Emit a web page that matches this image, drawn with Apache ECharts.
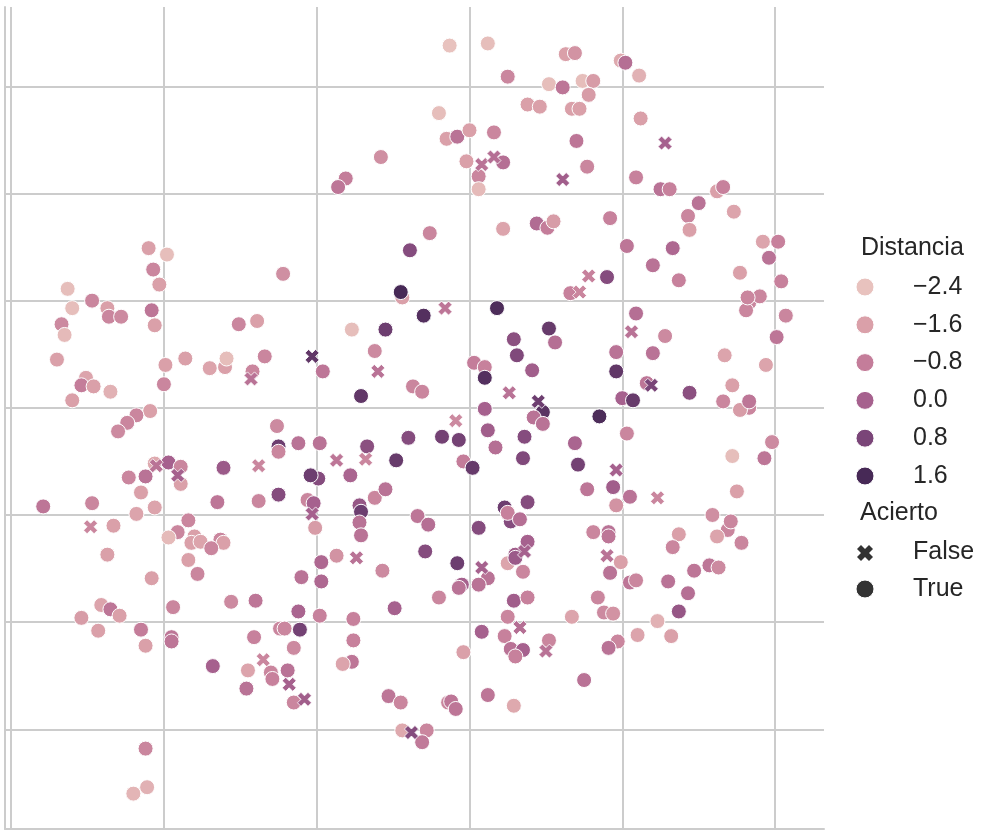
<!DOCTYPE html>
<html>
<head>
<meta charset="utf-8">
<script src="https://cdn.jsdelivr.net/npm/echarts@6.0.0/dist/echarts.min.js"></script>
<style>
  html, body { margin: 0; padding: 0; background: #fff; }
  #chart { width: 984px; height: 831px; }
</style>
</head>
<body>
<div id="chart"></div>
<script>
// [x, y, Distancia] for Acierto = True
var aciertoTrue = [
  [-2.10,1.49,-1.6],[-1.98,1.43,-2.3],[-2.07,1.29,-1.0],[-2.03,1.15,-1.6],[-1.22,1.25,-1.2],
  [-0.13,3.38,-2.4],[0.12,3.40,-2.3],[0.25,3.09,-1.0],[0.52,3.02,-2.3],[0.38,2.83,-1.6],
  [0.46,2.81,-1.6],[-0.20,2.75,-2.3],[-0.15,2.51,-1.6],[-0.08,2.53,-0.5],[0.00,2.59,-1.6],
  [0.16,2.57,-1.0],[-0.02,2.30,-1.6],[0.22,2.29,-0.4],[0.06,2.16,-1.0],[0.06,2.04,-2.2],
  [-0.26,1.63,-1.0],[-0.39,1.47,0.6],[-0.58,2.34,-1.2],[-0.81,2.14,-0.8],[-0.86,2.06,-0.6],
  [0.22,1.67,-1.7],[0.44,1.72,-0.3],[0.51,1.68,-0.8],[0.55,1.74,-1.5],[0.63,3.30,-1.6],
  [0.69,3.31,-1.3],[0.99,3.24,-1.8],[1.02,3.22,-0.4],[1.11,3.10,-2.0],[0.61,2.99,-0.6],
  [0.74,3.05,-2.3],[0.81,3.05,-1.5],[0.78,2.92,-1.5],[0.67,2.79,-1.6],[0.72,2.79,-1.6],
  [1.12,2.70,-1.6],[0.70,2.49,-0.6],[0.77,2.25,-1.0],[1.09,2.15,-0.9],[1.25,2.04,-0.5],
  [1.31,2.04,-0.9],[1.50,1.91,-0.5],[1.62,2.02,-1.6],[1.66,2.06,-0.9],[1.73,1.83,-1.7],
  [1.43,1.79,-1.0],[1.44,1.66,-1.6],[0.92,1.77,-0.9],[1.03,1.51,-0.6],[1.33,1.49,-0.2],
  [1.20,1.33,-0.5],[1.92,1.55,-1.7],[2.02,1.55,-0.9],[1.96,1.40,-0.5],[1.77,1.26,-1.6],
  [2.04,1.18,-0.9],[1.37,1.19,-0.9],[0.90,1.22,0.6],[-2.63,1.11,-2.3],[-2.60,0.93,-2.3],
  [-2.47,1.00,-1.0],[-2.37,0.93,-1.6],[-2.36,0.85,-1.0],[-2.28,0.85,-1.1],[-2.08,0.91,-0.6],
  [-2.06,0.77,-1.6],[-2.67,0.78,-1.1],[-2.65,0.68,-2.2],[-2.70,0.45,-1.6],[-2.51,0.28,-1.7],
  [-2.54,0.21,-0.8],[-2.46,0.20,-1.6],[-2.35,0.15,-2.0],[-2.60,0.07,-1.6],[-1.99,0.40,-1.6],
  [-2.00,0.22,-1.0],[-1.86,0.46,-1.6],[-1.70,0.37,-1.7],[-1.60,0.38,-1.6],[-1.59,0.46,-2.3],
  [-1.51,0.78,-1.0],[-1.39,0.81,-1.6],[-1.34,0.48,-1.0],[-1.42,0.34,-1.0],[-2.09,-0.03,-1.6],
  [-2.18,-0.07,-1.0],[-2.24,-0.14,-1.0],[-2.30,-0.22,-1.1],[-1.26,-0.17,-1.1],[-1.25,-0.36,1.0],
  [-1.25,-0.41,-1.0],[-2.06,-0.52,-1.8],[-1.97,-0.51,0.0],[-1.89,-0.55,-1.0],[-1.89,-0.71,-1.6],
  [-2.23,-0.65,-1.0],[-2.12,-0.64,-0.5],[-2.15,-0.79,-1.6],[-1.61,-0.56,0.2],[-2.79,-0.92,-0.6],
  [-2.47,-0.89,-1.0],[-1.65,-0.88,-0.6],[-1.38,-0.87,-1.0],[-1.25,-0.81,0.6],[-2.06,-0.93,-1.7],
  [-2.18,-0.99,-1.7],[-2.33,-1.10,-1.6],[-1.84,-1.05,-1.0],[-1.91,-1.16,-1.0],[-1.97,-1.21,-2.2],
  [-1.80,-1.20,-1.6],[-1.82,-1.26,-1.6],[-1.76,-1.25,-1.7],[-1.63,-1.23,-1.0],[-1.61,-1.26,-1.6],
  [-1.69,-1.31,-1.0],[-2.37,-1.37,-1.6],[-0.44,1.03,-1.6],[-0.45,1.08,1.6],[-0.30,0.86,1.4],
  [0.18,0.93,1.5],[-0.55,0.73,1.0],[-0.77,0.73,-2.3],[-0.62,0.53,-1.1],[-0.96,0.34,-0.6],
  [-0.71,0.11,1.2],[-0.37,0.20,-1.0],[-0.31,0.15,-1.0],[0.03,0.42,-0.8],[0.10,0.38,-0.9],
  [0.10,0.28,1.4],[0.29,0.64,0.5],[0.31,0.49,0.7],[0.41,0.35,0.1],[0.52,0.74,1.1],
  [0.56,0.61,-0.4],[0.48,-0.04,1.3],[0.42,-0.09,-0.5],[0.48,-0.15,-0.5],[0.10,-0.01,0.0],
  [0.12,-0.21,0.1],[0.17,-0.37,-0.4],[0.36,-0.27,0.6],[0.35,-0.47,0.7],[-0.18,-0.27,0.9],
  [-0.07,-0.30,0.9],[-0.40,-0.28,0.6],[-0.04,-0.50,-0.8],[0.02,-0.56,1.1],[-0.48,-0.49,1.1],
  [-0.67,-0.36,0.5],[-0.78,-0.63,-0.1],[-0.99,-0.66,0.6],[-1.04,-0.63,1.0],[-1.12,-0.33,-0.5],
  [-0.98,-0.33,-0.5],[-1.06,-0.86,-1.0],[-1.02,-0.89,0.0],[-1.01,-1.12,-1.5],[-0.72,-0.91,0.3],
  [-0.71,-0.97,1.0],[-0.72,-1.07,-0.5],[-0.71,-1.19,-0.5],[-0.62,-0.84,-1.0],[-0.55,-0.76,-0.5],
  [-0.34,-1.01,-0.6],[-0.27,-1.09,-0.4],[0.06,-1.12,0.6],[0.23,-0.93,1.0],[0.27,-1.06,0.6],
  [0.25,-0.98,-0.9],[0.33,-1.04,-0.4],[0.38,-0.88,0.6],[0.38,-1.25,0.0],[0.30,-1.37,0.1],
  [-0.29,-1.34,0.6],[-0.87,-1.38,-1.3],[0.66,1.07,-0.9],[1.09,0.88,-0.4],[1.28,0.67,-1.1],
  [1.20,0.51,-0.5],[0.96,0.52,-0.5],[0.96,0.34,1.2],[1.16,0.23,-0.6],[1.44,0.14,0.5],
  [1.00,0.09,0.0],[1.07,0.07,1.1],[0.85,-0.08,1.5],[1.03,-0.24,-1.0],[0.69,-0.33,-0.1],
  [0.71,-0.53,0.9],[0.77,-0.76,-0.6],[0.94,-0.74,0.1],[1.05,-0.83,-0.5],[0.96,-0.91,-1.3],
  [1.83,0.98,-1.0],[1.81,0.91,-1.0],[1.90,1.04,-1.0],[1.82,1.03,-1.0],[2.07,0.86,-1.0],
  [2.01,0.66,-0.6],[1.67,0.49,-1.7],[1.94,0.40,-1.7],[1.72,0.21,-1.6],[1.66,0.06,-1.0],
  [1.83,0.00,-1.0],[1.77,-0.02,-1.5],[1.83,0.06,-0.6],[1.72,-0.45,-2.3],[1.98,-0.32,-1.1],
  [1.93,-0.47,-0.6],[1.75,-0.78,-1.6],[1.59,-1.00,-1.2],[1.69,-1.14,-1.0],[1.71,-1.06,-1.0],
  [1.62,-1.20,-1.7],[1.78,-1.26,-1.0],[1.37,-1.18,-1.6],[1.33,-1.30,-1.0],[0.81,-1.16,-1.0],
  [0.91,-1.16,-0.5],[0.91,-1.20,-0.6],[-2.08,-1.59,-1.6],[-1.84,-1.42,-1.6],[-1.78,-1.55,-1.0],
  [-1.94,-1.86,-1.0],[-2.41,-1.84,-1.7],[-2.35,-1.88,-0.6],[-2.29,-1.94,-1.6],[-2.54,-1.96,-1.5],
  [-2.43,-2.08,-1.6],[-2.15,-2.07,-0.8],[-2.12,-2.22,-1.6],[-1.95,-2.14,-0.6],[-1.95,-2.18,-0.6],
  [-1.68,-2.41,0.0],[-1.56,-1.81,-1.1],[-1.40,-1.80,-0.6],[-1.24,-2.06,-1.0],[-1.41,-2.14,-0.9],
  [-1.45,-2.45,-1.7],[-1.46,-2.62,-0.5],[-1.30,-2.47,-1.0],[-1.29,-2.53,-0.9],[-2.12,-3.18,-1.0],
  [-2.11,-3.54,-2.0],[-2.20,-3.60,-2.1],[-0.97,-1.44,-0.2],[-1.10,-1.58,-0.5],[-0.97,-1.62,-0.2],
  [-0.57,-1.52,-1.1],[-0.08,-1.45,1.0],[0.12,-1.59,-0.5],[-0.05,-1.65,0.0],[-0.07,-1.68,-0.5],
  [0.06,-1.65,-0.5],[-0.20,-1.77,-1.0],[-0.49,-1.87,0.0],[0.25,-1.45,-1.7],[0.30,-1.40,0.2],
  [0.35,-1.53,-1.0],[0.29,-1.80,0.1],[0.38,-1.77,-0.9],[0.25,-1.95,-1.0],[0.23,-2.13,-0.9],
  [0.27,-2.25,-0.5],[0.35,-2.26,0.0],[0.30,-2.32,-0.9],[0.08,-2.09,0.0],[-0.04,-2.28,-1.6],
  [0.52,-2.17,-1.0],[-1.12,-1.90,-0.1],[-0.98,-1.94,-0.9],[-1.21,-2.06,-1.0],[-1.11,-2.07,0.9],
  [-1.15,-2.24,-1.1],[-0.76,-1.97,-0.9],[-0.76,-2.17,-0.9],[-0.77,-2.37,-0.6],[-0.83,-2.39,-1.7],
  [-1.19,-2.45,-0.5],[-1.15,-2.75,-1.0],[-0.53,-2.69,-0.6],[-0.45,-2.75,-1.0],[-0.44,-3.01,-1.8],
  [-0.28,-3.01,-1.0],[-0.31,-3.12,-0.7],[-0.14,-2.75,-1.0],[-0.12,-2.74,-0.6],[-0.09,-2.81,-0.6],
  [0.12,-2.68,-0.6],[0.29,-2.78,-1.8],[0.99,-1.44,-1.6],[0.92,-1.54,-0.5],[1.05,-1.63,-0.6],
  [1.09,-1.61,-1.0],[1.30,-1.62,-0.5],[1.47,-1.52,-0.6],[1.57,-1.47,-0.6],[1.63,-1.49,-1.1],
  [1.43,-1.73,-0.4],[1.37,-1.90,0.3],[0.84,-1.77,-1.0],[0.88,-1.91,-1.1],[0.94,-1.92,-1.3],
  [0.67,-1.95,-1.7],[1.23,-1.99,-2.0],[1.10,-2.12,-1.7],[1.32,-2.13,-1.6],[0.97,-2.18,-1.0],
  [0.91,-2.24,-0.5],[0.75,-2.54,-0.5]
];

// [x, y, Distancia] for Acierto = False
var aciertoFalse = [
  [0.08,2.27,-0.5],[0.16,2.34,-0.4],[1.28,2.47,0.0],[0.61,2.13,0.1],[0.78,1.23,-0.9],
  [-1.43,0.27,-0.5],[-2.05,-0.54,-0.5],[-1.91,-0.63,0.0],[-1.38,-0.54,-1.0],[-2.48,-1.11,-1.0],
  [-0.16,0.93,-0.6],[-1.03,0.48,1.2],[-0.60,0.34,-0.5],[0.26,0.14,-0.5],[0.45,0.06,1.0],
  [-0.09,-0.12,-1.1],[-0.68,-0.48,-1.0],[-0.87,-0.49,-0.6],[-1.03,-0.99,0.0],[0.36,-1.34,0.0],
  [-0.74,-1.40,-0.5],[0.72,1.08,-1.0],[1.06,0.71,-0.5],[1.19,0.21,0.8],[0.96,-0.58,0.0],
  [1.23,-0.84,-1.0],[0.90,-1.38,-0.5],[-1.35,-2.35,-1.0],[0.08,-1.49,0.0],[0.33,-2.05,-0.4],
  [0.50,-2.27,-0.5],[-1.18,-2.58,0.0],[-1.08,-2.72,0.1],[-0.38,-3.03,0.6]
];

var xGrid = [-3, -2, -1, 0, 1, 2];
var yGrid = [-3, -2, -1, 0, 1, 2, 3];
var legendValues = [-2.4, -1.6, -0.8, 0.0, 0.8, 1.6];
var legendLabels = ['\u22122.4', '\u22121.6', '\u22120.8', '0.0', '0.8', '1.6'];

// cubehelix-like colours at the legend values
var palette = ['#e8c2be', '#daa0a9', '#c47d9a', '#a6618e', '#7a4578', '#472956'];

var xPts = [[6,0],[8,2],[6,4],[8,6],[6,8],[4,6],[2,8],[0,6],[2,4],[0,2],[2,0],[4,2]];
var xPath = 'path://M' + xPts.map(function (p) { return p[0] + ',' + p[1]; }).join('L') + 'Z';

var chart = echarts.init(document.getElementById('chart'));

var font = '25px Liberation Sans, Arial, sans-serif';
var textColor = '#262626';
function label(text, x, y) {
  return { type: 'text', x: x, y: y, style: { text: text, font: font, fill: textColor, textVerticalAlign: 'middle' } };
}
var legendGraphics = [label('Distancia', 861, 248)];
legendValues.forEach(function (v, i) {
  var cy = 287 + 37.8 * i;
  legendGraphics.push({ type: 'circle', shape: { cx: 865, cy: cy, r: 9 }, style: { fill: palette[i], stroke: '#fff', lineWidth: 1 } });
  legendGraphics.push(label(legendLabels[i], 913, cy));
});
legendGraphics.push(label('Acierto', 860, 513));
legendGraphics.push({
  type: 'polygon',
  shape: { points: xPts.map(function (p) { return [857 + p[0] * 2, 545 + p[1] * 2]; }) },
  style: { fill: '#333333' }
});
legendGraphics.push(label('False', 913, 552));
legendGraphics.push({ type: 'circle', shape: { cx: 865, cy: 589, r: 9 }, style: { fill: '#333333', stroke: '#fff', lineWidth: 1 } });
legendGraphics.push(label('True', 913, 589));

var gridLines = xGrid.map(function (v) { return { xAxis: v }; })
  .concat(yGrid.map(function (v) { return { yAxis: v }; }));

var option = {
  animation: false,
  backgroundColor: '#fff',
  grid: { left: 5, top: 7, right: 160, bottom: 2, containLabel: false },
  xAxis: {
    type: 'value', min: -3.04, max: 2.32,
    axisLine: { show: true, onZero: false, lineStyle: { color: '#cccccc', width: 2 } },
    axisTick: { show: false }, axisLabel: { show: false }, splitLine: { show: false }
  },
  yAxis: {
    type: 'value', min: -3.93, max: 3.74,
    axisLine: { show: true, onZero: false, lineStyle: { color: '#cccccc', width: 2 } },
    axisTick: { show: false }, axisLabel: { show: false }, splitLine: { show: false }
  },
  visualMap: {
    type: 'continuous', show: false, dimension: 2, seriesIndex: [1, 2],
    min: -2.4, max: 1.6, inRange: { color: palette }
  },
  series: [
    {
      // grid lines only
      type: 'scatter', data: [], silent: true, z: 1,
      markLine: {
        silent: true, z: 1, symbol: ['none', 'none'], label: { show: false },
        lineStyle: { color: '#cccccc', width: 2, type: 'solid' },
        emphasis: { disabled: true },
        data: gridLines
      }
    },
    {
      name: 'True', type: 'scatter', data: aciertoTrue, z: 3,
      symbol: 'circle', symbolSize: 15,
      itemStyle: { borderColor: '#ffffff', borderWidth: 1, opacity: 1 },
      emphasis: { disabled: true }
    },
    {
      name: 'False', type: 'scatter', data: aciertoFalse, z: 4,
      symbol: xPath, symbolSize: 14,
      itemStyle: { borderColor: '#ffffff', borderWidth: 0.8, opacity: 1 },
      emphasis: { disabled: true }
    }
  ],
  graphic: legendGraphics
};

chart.setOption(option);
</script>
</body>
</html>
